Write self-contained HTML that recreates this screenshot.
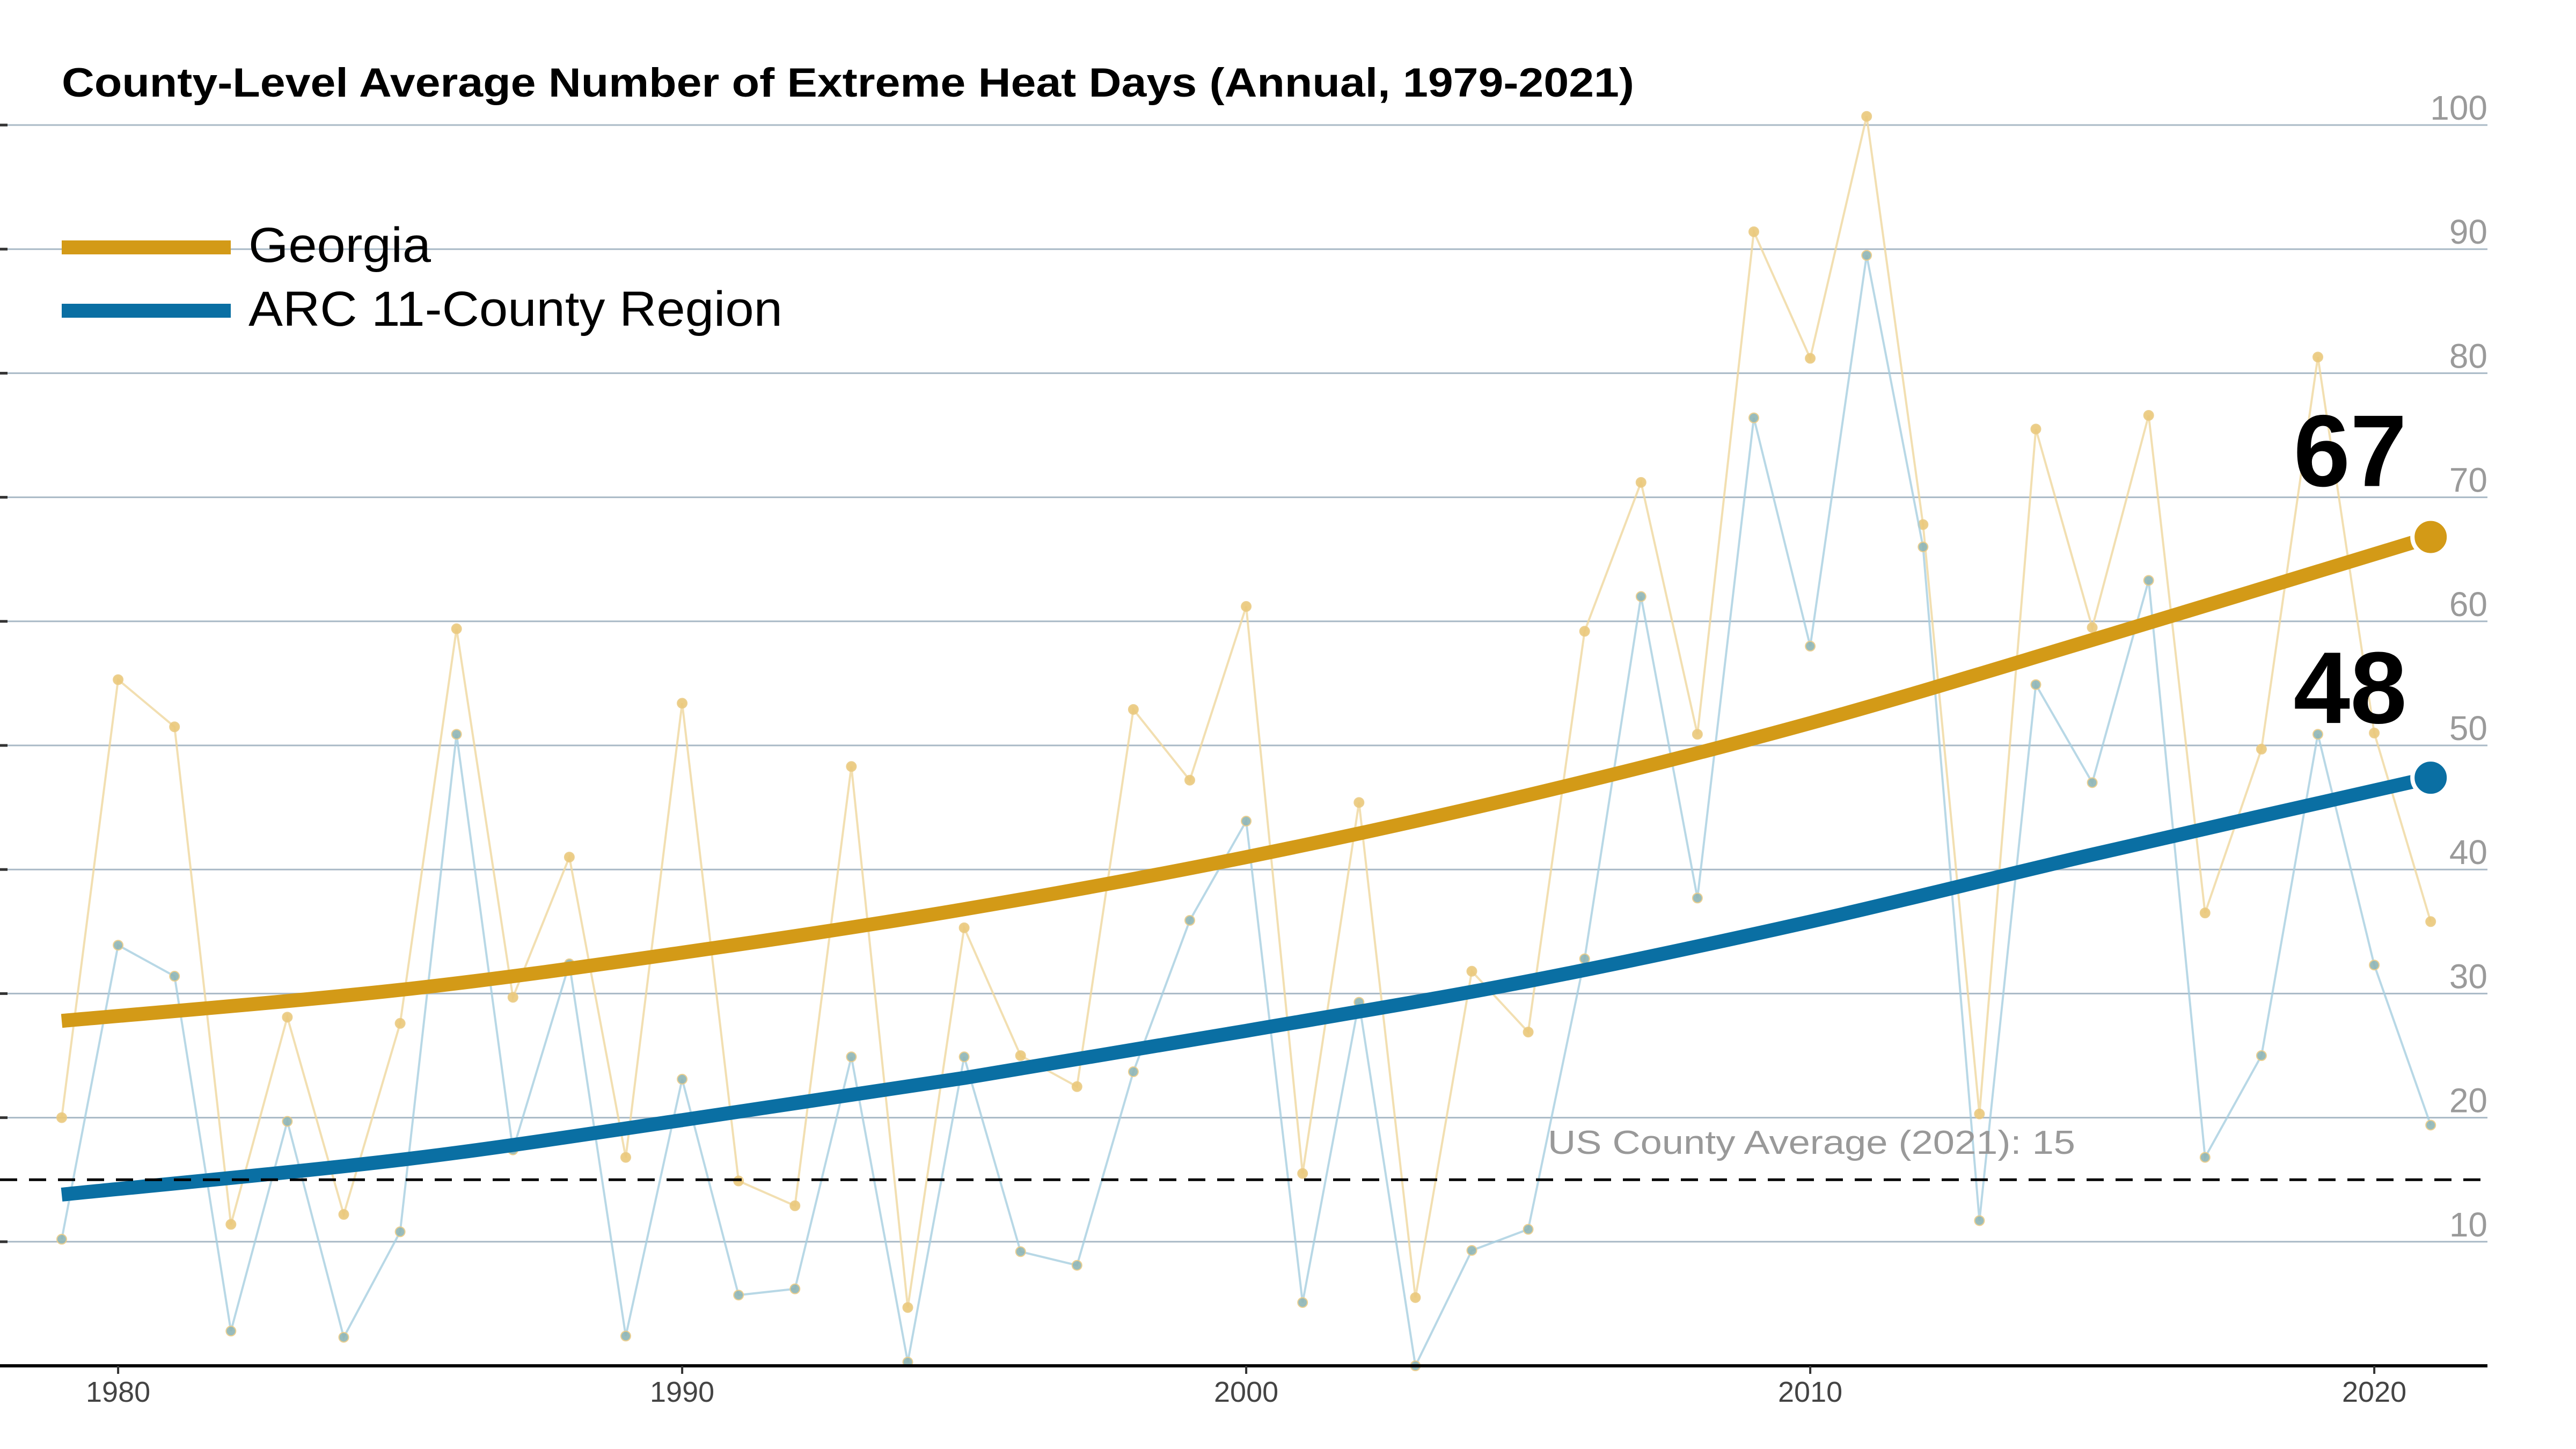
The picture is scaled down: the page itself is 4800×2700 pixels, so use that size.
<!DOCTYPE html>
<html><head><meta charset="utf-8"><style>
html,body{margin:0;padding:0;background:#fff;}
svg{display:block;font-family:"Liberation Sans",Arial,sans-serif;}
</style></head><body>
<svg id="chart" width="4800" height="2700" viewBox="0 0 4800 2700" xmlns="http://www.w3.org/2000/svg">
<rect width="4800" height="2700" fill="#fff"/>
<g id="grid"></g>
<g id="thin"></g>
<g id="trend"></g>
<g id="axes"></g>
<text x="115" y="180" font-size="76" font-weight="bold" fill="#000" textLength="2930" lengthAdjust="spacingAndGlyphs">County-Level Average Number of Extreme Heat Days (Annual, 1979-2021)</text>
<g>
<rect x="115" y="448" width="315" height="26" fill="#D39A17"/>
<text x="463" y="488" font-size="92" fill="#000" textLength="340" lengthAdjust="spacingAndGlyphs">Georgia</text>
<rect x="115" y="566" width="315" height="26" fill="#0A6FA3"/>
<text x="463" y="607" font-size="92" fill="#000" textLength="995" lengthAdjust="spacingAndGlyphs">ARC 11-County Region</text>
</g>
</svg>
<script>
const years=[1979,1980,1981,1982,1983,1984,1985,1986,1987,1988,1989,1990,1991,1992,1993,1994,1995,1996,1997,1998,1999,2000,2001,2002,2003,2004,2005,2006,2007,2008,2009,2010,2011,2012,2013,2014,2015,2016,2017,2018,2019,2020,2021];
const georgiaValues=[20,55.3,51.5,11.4,28.1,12.2,27.6,59.4,29.7,41,16.8,53.4,14.9,12.9,48.3,4.7,35.3,25,22.5,52.9,47.2,61.2,15.5,45.4,5.5,31.8,26.9,59.2,71.2,50.9,91.4,81.2,100.7,67.8,20.3,75.5,59.5,76.6,36.5,49.7,81.3,51,35.8];
const arcValues=[10.2,33.9,31.4,2.8,19.7,2.3,10.8,50.9,17.4,32.4,2.4,23.1,5.7,6.2,24.9,0.3,24.9,9.2,8.1,23.7,35.9,43.9,5.1,29.3,0,9.3,11,32.8,62,37.7,76.4,58,89.5,66,11.7,54.9,47,63.3,16.8,25,50.9,32.3,19.4];
const trendYears=[1979,1985,1990,1995,2000,2005,2010,2015,2021];
const georgiaTrend=[27.8,30.3,33.3,36.8,41,46,51.8,58.5,66.8];
const arcTrend=[13.8,16.6,19.8,23.2,27,31,35.8,41.2,47.4];
const yTicks=[10,20,30,40,50,60,70,80,90,100];
const xTicks=[1980,1990,2000,2010,2020];
const usAverage=15;
const endLabels=["67","48"];

const NS="http://www.w3.org/2000/svg";
const X=yr=>115+(yr-1979)*105.1;
const Y=v=>2545-v*23.12;
function mk(tag,attrs,parent){const e=document.createElementNS(NS,tag);for(const k in attrs)e.setAttribute(k,attrs[k]);parent.appendChild(e);return e;}
const grid=document.getElementById('grid'),thin=document.getElementById('thin'),trend=document.getElementById('trend'),axes=document.getElementById('axes');

yTicks.forEach(t=>{
  const l=mk('line',{x1:0,x2:4635,y1:Y(t),y2:Y(t),stroke:'#A9B9C6','stroke-width':3},grid);
  
  
  const tk=mk('line',{x1:0,x2:14,y1:Y(t),y2:Y(t),stroke:'#333','stroke-width':5},grid);
  
  
  const tx=mk('text',{x:4635,y:Y(t)-10,'text-anchor':'end','font-size':64,fill:'#9a9a9a'},grid);
  tx.textContent=t;
  
  
});

const ax=mk('line',{x1:0,x2:4635,y1:2545,y2:2545,stroke:'#000','stroke-width':6},axes);


xTicks.forEach(t=>{
  const tk=mk('line',{x1:X(t),x2:X(t),y1:2545,y2:2560,stroke:'#333','stroke-width':4},axes);
  
  
  const tx=mk('text',{x:X(t),y:2612,'text-anchor':'middle','font-size':54,fill:'#444'},axes);
  tx.textContent=t;
  
  
});

function series(vals,stroke,fill,name){
  const p=mk('polyline',{points:vals.map((v,i)=>X(years[i])+','+Y(v)).join(' '),fill:'none',stroke:stroke,'stroke-width':4,opacity:0.8},thin);
  
  
  vals.forEach((v,i)=>{
    const c=mk('circle',{cx:X(years[i]),cy:Y(v),r:9,fill:fill,stroke:'#EBCB85','stroke-width':2,opacity:0.9},thin);
    
    
  });
}
series(georgiaValues,'#EFD79D','#EBC87A','georgia');
series(arcValues,'#A6CEE0','#8FB5B5','arc');

const dl=mk('line',{x1:0,x2:4635,y1:Y(usAverage),y2:Y(usAverage),stroke:'#000','stroke-width':5,'stroke-dasharray':'32 22'},axes);


const dt=mk('text',{x:2884,y:Y(usAverage)-48,'font-size':62,fill:'#999',textLength:983,lengthAdjust:'spacingAndGlyphs'},axes);
dt.textContent='US County Average (2021): '+usAverage;



function smoothPath(xs,vs){
  const pts=xs.map((x,i)=>[X(x),Y(vs[i])]);
  let d='M'+pts[0][0]+','+pts[0][1];
  for(let i=0;i<pts.length-1;i++){
    const p0=pts[Math.max(0,i-1)],p1=pts[i],p2=pts[i+1],p3=pts[Math.min(pts.length-1,i+2)];
    const c1=[p1[0]+(p2[0]-p0[0])/6,p1[1]+(p2[1]-p0[1])/6];
    const c2=[p2[0]-(p3[0]-p1[0])/6,p2[1]-(p3[1]-p1[1])/6];
    d+=' C'+c1+' '+c2+' '+p2;
  }
  return d;
}
function trendLine(vals,color,name,label,labelDy){
  const p=mk('path',{d:smoothPath(trendYears,vals),fill:'none',stroke:color,'stroke-width':26},trend);
  
  
  const last=vals[vals.length-1],ly=trendYears[trendYears.length-1];
  const c=mk('circle',{cx:X(ly),cy:Y(last),r:34,fill:color,stroke:'#fff','stroke-width':8},trend);
  
  
  const t=mk('text',{x:X(ly)-150,y:Y(last)+labelDy,'text-anchor':'middle','font-size':190,'font-weight':'bold',fill:'#000'},trend);
  t.textContent=label;
  
  
}
trendLine(georgiaTrend,'#D39A17','georgia',endLabels[0],-95);
trendLine(arcTrend,'#0A6FA3','arc',endLabels[1],-102);
</script>
</body></html>
